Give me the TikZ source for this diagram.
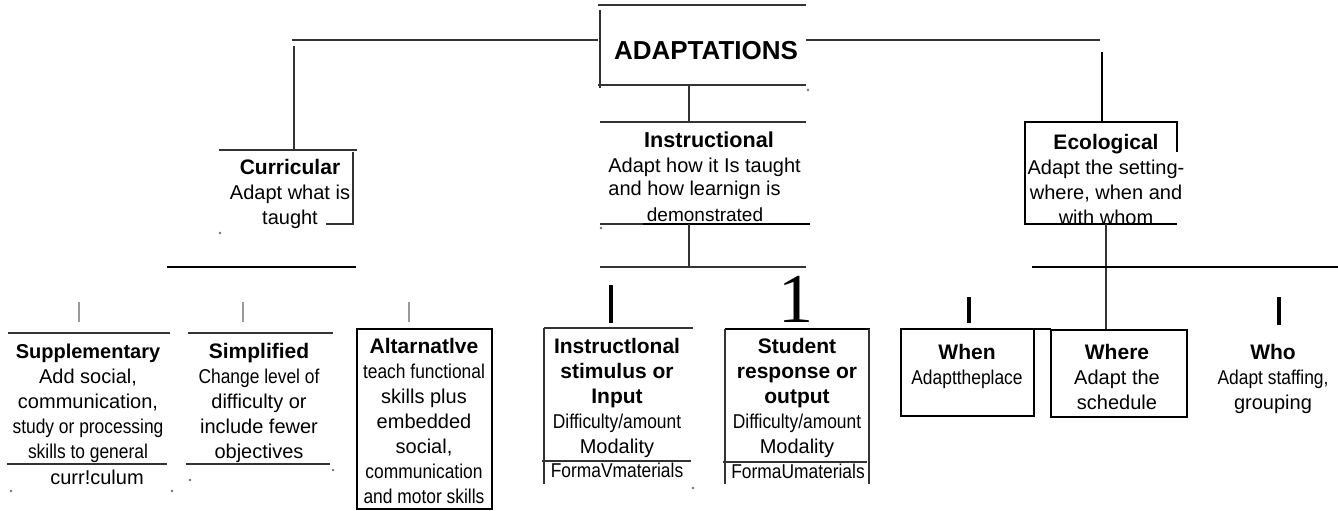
\documentclass[tikz,border=0pt]{standalone}
\usepackage{fontspec}
\setmainfont{Liberation Sans}
\newfontfamily\narrowfont[FakeStretch=0.87]{Liberation Sans}
\newfontfamily\serifone{Liberation Serif}
\usetikzlibrary{positioning}

\newcommand{\hd}[1]{{\bfseries\fontsize{10.5}{12.5}\selectfont #1}}

\begin{document}
\begin{tikzpicture}[x=0.5pt,y=-0.5pt]

  % Define styles
  \tikzstyle{txt} = [align=center, inner sep=0pt, font=\fontsize{10}{12.5}\selectfont]
  \tikzstyle{lefttxt} = [align=left, inner sep=0pt, font=\fontsize{10}{11.5}\selectfont]
  \tikzstyle{rule} = [draw=black!80, line width=0.65pt]
  \tikzstyle{boxline} = [draw=black, line width=0.7pt]
  \tikzstyle{tick} = [draw=black!40, line width=0.6pt]
  \tikzstyle{bar} = [draw=black, line width=1.6pt]
  \tikzstyle{speck} = [circle, fill=black!55, inner sep=0pt, minimum size=1.3pt]

  \useasboundingbox (0,0) rectangle (1338,510);

  % Top: ADAPTATIONS
  \node[inner sep=0pt, font=\bfseries\fontsize{13}{14}\selectfont, anchor=base] (adapt) at (706,59) {ADAPTATIONS};
  \draw[rule] (598,5) -- (806,5);
  \draw[rule] (600,10) -- (600,88);
  \draw[rule] (598,85) -- (806,85);
  \draw[rule] (292,40) -- (598,40);
  \draw[rule] (806,40) -- (1100,40);
  \node[speck] (s1) at (808,90) {};

  % Curricular (base anchor = last line)
  \draw[rule] (294,46) -- (294,150);
  \draw[rule] (219,150) -- (357,150);
  \draw[rule] (353,152) -- (353,225);
  \draw[rule] (326,224) -- (353,224);
  \node[txt, anchor=base] (curric) at (290,224) {\hd{Curricular}\\Adapt what is\\taught};
  \node[speck] (s2) at (220,233) {};
  \draw[boxline] (167,267) -- (356,267);

  % Instructional
  \draw[rule] (689,85) -- (689,122);
  \draw[rule] (600,122) -- (806,122);
  \node[txt, font=\bfseries\fontsize{10.8}{12.5}\selectfont, anchor=base] (instr) at (709,147) {Instructional};
  \node[lefttxt, anchor=base west] (instrb) at (608,195) {Adapt how it Is taught\\and how learnign is};
  \node[txt, font=\fontsize{9.5}{11}\selectfont, anchor=base] (demo) at (705,221) {demonstrated};
  \draw[rule] (600,224) -- (643,224);
  \draw[boxline, line width=1.1pt] (643,224) -- (810,224);
  \node[speck] (s3) at (601,228) {};
  \draw[rule] (689,224) -- (689,267);
  \draw[rule] (600,267) -- (806,267);

  % Ecological
  \draw[boxline] (1102,52) -- (1102,122);
  \draw[boxline] (1177,152) -- (1177,122) -- (1025,122) -- (1025,224) -- (1177,224);
  \node[txt, anchor=base] (ecol) at (1106,224) {\hd{Ecological}\\Adapt the setting-\\where, when and\\with whom};
  \draw[rule] (1106,224) -- (1106,330);
  \draw[boxline] (1032,267) -- (1338,267);

  % Curricular row
  \draw[tick] (79,302) -- (79,322);
  \draw[tick] (243,302) -- (243,322);
  \draw[tick] (409,302) -- (409,322);

  \draw[rule] (8,333) -- (170,333);
  \draw[rule] (7,464) -- (167,464);
  \node[txt, anchor=base] (suppl) at (88,458) {\textbf{Supplementary}\\Add social,\\communication,\\{\narrowfont study or processing}\\{\narrowfont skills to general}};
  \node[txt, anchor=base] (currlm) at (97,484) {curr!culum};
  \node[speck] (s4) at (11,491) {};
  \node[speck] (s5) at (172,491) {};

  \draw[rule] (188,333) -- (333,333);
  \draw[rule] (186,464) -- (330,464);
  \node[txt, anchor=base] (simpl) at (259,458) {\hd{Simplified}\\{\narrowfont Change level of}\\difficulty or\\include fewer\\objectives};
  \node[speck] (s6) at (190,480) {};
  \node[speck] (s7) at (333,470) {};

  \draw[boxline] (357,329) rectangle (492,509);
  \node[txt, anchor=base] (altern) at (424,503) {\hd{Altarnatlve}\\{\narrowfont teach functional}\\skills plus\\embedded\\social,\\{\narrowfont communication}\\{\narrowfont and motor skills}};

  % Instructional row
  \draw[bar, line width=2.2pt] (611,285) -- (611,323);
  \node[inner sep=0pt, font=\serifone\fontsize{35}{35}\selectfont, anchor=base] (one) at (796,322) {1};

  \draw[rule] (544,328) -- (693,328);
  \draw[rule] (544,328) -- (544,484);
  \draw[rule] (542,461) -- (691,461);
  \node[txt, anchor=base] (stim) at (617,453) {\hd{Instructlonal}\\\hd{stimulus or}\\\hd{Input}\\{\narrowfont Difficulty/amount}\\Modality};
  \node[txt, anchor=base] (stimf) at (617,477) {\narrowfont FormaVmaterials};
  \node[speck] (s8) at (693,488) {};

  \draw[boxline, line width=1.1pt] (725,329) -- (870,329);
  \draw[rule] (725,329) -- (725,484);
  \draw[rule] (869,329) -- (869,484);
  \draw[rule] (723,462) -- (867,462);
  \node[txt, anchor=base] (resp) at (797,453) {\hd{Student}\\\hd{response or}\\\hd{output}\\{\narrowfont Difficulty/amount}\\Modality};
  \node[txt, anchor=base] (respf) at (798,478) {\narrowfont FormaUmaterials};

  % Ecological row
  \draw[bar] (969,297) -- (969,323);
  \draw[bar] (1279,297) -- (1279,325);
  \draw[boxline] (901,329) rectangle (1034,416);
  \draw[boxline] (1034,329) -- (1051,329);
  \draw[boxline, line width=1.1pt] (1051,330) rectangle (1187,417);
  \node[txt, anchor=base] (when) at (967,384) {\hd{When}\\{\narrowfont Adapttheplace}};
  \node[txt, anchor=base] (where) at (1117,409) {\hd{Where}\\Adapt the\\schedule};
  \node[txt, anchor=base] (who) at (1273,409) {\hd{Who}\\{\narrowfont Adapt staffing,}\\grouping};

\end{tikzpicture}
\end{document}
